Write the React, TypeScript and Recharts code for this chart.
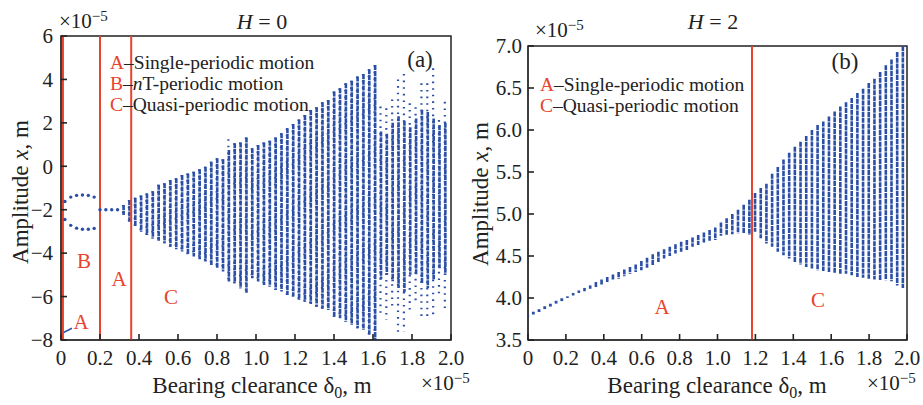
import React from 'react'
import {
  ComposedChart,
  Bar,
  Scatter,
  Line,
  XAxis,
  YAxis,
  ReferenceLine,
  ReferenceArea,
} from 'recharts'

const BLUE = '#2b4ea6'
const RED = '#e8432d'
const INK = '#222'
const SERIF = '"Liberation Serif", "DejaVu Serif", serif'

// (a) H = 0 : bifurcation columns (x in 1e-5 m, amplitude in 1e-5 m)
const aColX = [
  0.32, 0.35, 0.38, 0.41, 0.44, 0.47, 0.5, 0.53, 0.56, 0.59, 0.62, 0.65, 0.68, 0.71,
  0.74, 0.77, 0.8, 0.83, 0.86, 0.89, 0.92, 0.95, 0.98, 1.01, 1.04, 1.07, 1.1, 1.13,
  1.16, 1.19, 1.22, 1.25, 1.28, 1.31, 1.34, 1.37, 1.4, 1.43, 1.46, 1.49, 1.52, 1.55,
  1.58, 1.61, 1.64, 1.67, 1.7, 1.73, 1.76, 1.79, 1.82, 1.85, 1.88, 1.91, 1.94, 1.97,
]
const aHigh = [
  -1.78, -1.55, -1.45, -1.35, -1.25, -1.15, -0.85, -0.78, -0.63, -0.55, -0.4, -0.33, -0.25, -0.14,
  -0.02, 0.21, 0.37, 0.32, 1.25, 1.06, 1.09, 1.33, 0.83, 0.98, 1.09, 1.18, 1.33, 1.52,
  1.75, 1.95, 2.16, 2.36, 2.59, 2.72, 2.95, 3.05, 3.44, 3.59, 3.82, 3.94, 4.13, 4.25,
  4.47, 4.66, 2.75, 2.67, 3.08, 4.0, 4.25, 2.9, 2.72, 3.82, 3.82, 4.51, 2.13, 2.97,
]
const aLow = [
  -2.24, -2.55, -2.78, -3.02, -3.16, -3.32, -3.43, -3.55, -3.7, -3.82, -3.93, -4.05, -4.15, -4.28,
  -4.39, -4.55, -4.7, -4.85, -5.31, -5.39, -5.62, -5.82, -5.16, -5.31, -5.47, -5.54, -5.7, -5.77,
  -5.93, -6.0, -6.16, -6.24, -6.34, -6.47, -6.56, -6.62, -6.93, -7.0, -7.16, -7.31, -7.46, -7.54,
  -7.75, -8.0, -6.93, -7.08, -6.54, -7.69, -7.62, -6.62, -6.31, -6.93, -6.93, -6.93, -6.0, -6.62,
]
const aCoreHigh = [
  -1.78, -1.55, -1.45, -1.35, -1.25, -1.15, -0.85, -0.78, -0.63, -0.55, -0.4, -0.33, -0.25, -0.14,
  -0.02, 0.21, 0.37, 0.32, 0.75, 1.06, 1.09, 1.33, 0.83, 0.98, 1.09, 1.18, 1.33, 1.52,
  1.75, 1.95, 2.16, 2.36, 2.59, 2.72, 2.95, 3.05, 3.44, 3.59, 3.82, 3.94, 4.13, 4.25,
  4.47, 4.66, 1.6, 1.5, 2.0, 2.3, 2.1, 1.8, 2.2, 2.6, 2.5, 2.2, 1.9, 2.0,
]
const aCoreLow = [
  -2.24, -2.55, -2.78, -3.02, -3.16, -3.32, -3.43, -3.55, -3.7, -3.82, -3.93, -4.05, -4.15, -4.28,
  -4.39, -4.55, -4.7, -4.85, -5.31, -5.39, -5.62, -5.82, -5.16, -5.31, -5.47, -5.54, -5.7, -5.77,
  -5.93, -6.0, -6.16, -6.24, -6.34, -6.47, -6.56, -6.62, -6.93, -7.0, -7.16, -7.31, -7.46, -7.54,
  -7.75, -8.0, -5.2, -5.0, -5.3, -5.6, -5.8, -5.0, -5.0, -5.4, -5.6, -5.2, -4.7, -5.0,
]
// nT-periodic branches
const aBranchX = [0.02, 0.05, 0.08, 0.11, 0.14, 0.17]
const aBranchUpper = [-1.62, -1.42, -1.34, -1.32, -1.34, -1.42]
const aBranchLower = [-2.45, -2.72, -2.85, -2.9, -2.9, -2.86]
// single-periodic points between 0.2 and 0.3
const aSingleX = [0.2, 0.23, 0.26, 0.29]
const aSingleY = [-2.0, -2.0, -2.0, -2.0]
// short segment near zero clearance
const aStartX = [0, 0.056]
const aStartY = [-7.72, -7.46]
const aBoundaries = [0.01, 0.2, 0.36]

// (b) H = 2
const bColX = [
  0, 0.03, 0.06, 0.09, 0.12, 0.15, 0.18, 0.21, 0.24, 0.27, 0.3, 0.33, 0.36, 0.39, 0.42, 0.45,
  0.48, 0.51, 0.54, 0.57, 0.6, 0.63, 0.66, 0.69, 0.72, 0.75, 0.78, 0.81, 0.84, 0.87, 0.9, 0.93,
  0.96, 0.99, 1.02, 1.05, 1.08, 1.11, 1.14, 1.17, 1.2, 1.23, 1.26, 1.29, 1.32, 1.35, 1.38, 1.41,
  1.44, 1.47, 1.5, 1.53, 1.56, 1.59, 1.62, 1.65, 1.68, 1.71, 1.74, 1.77, 1.8, 1.83, 1.86, 1.89,
  1.92, 1.95, 1.98,
]
const bLow = [
  3.786, 3.82, 3.85, 3.885, 3.915, 3.95, 3.98, 4.0, 4.03, 4.06, 4.08, 4.11, 4.13, 4.16, 4.19, 4.21,
  4.23, 4.26, 4.29, 4.31, 4.33, 4.36, 4.39, 4.43, 4.47, 4.5, 4.53, 4.55, 4.57, 4.61, 4.63, 4.66,
  4.68, 4.69, 4.74, 4.75, 4.76, 4.77, 4.77, 4.75, 4.79, 4.71, 4.65, 4.61, 4.55, 4.51, 4.47, 4.43,
  4.4, 4.37, 4.35, 4.33, 4.32, 4.31, 4.3, 4.29, 4.29, 4.27, 4.25, 4.24, 4.23, 4.22, 4.21, 4.21,
  4.2, 4.15, 4.12,
]
const bHigh = [
  3.786, 3.82, 3.85, 3.885, 3.915, 3.95, 3.98, 4.02, 4.06, 4.09, 4.12, 4.15, 4.19, 4.22, 4.25, 4.28,
  4.31, 4.34, 4.37, 4.4, 4.44, 4.48, 4.52, 4.55, 4.58, 4.61, 4.64, 4.67, 4.69, 4.72, 4.75, 4.78,
  4.81, 4.84, 4.9, 4.95, 5.0, 5.05, 5.11, 5.17, 5.25, 5.31, 5.36, 5.48, 5.56, 5.65, 5.73, 5.8,
  5.86, 5.93, 6.0, 6.06, 6.1, 6.16, 6.22, 6.28, 6.33, 6.38, 6.44, 6.49, 6.56, 6.61, 6.69, 6.77,
  6.84, 6.93, 7.0,
]
const bBoundaries = [1.182]

const xTicks = [0, 0.2, 0.4, 0.6, 0.8, 1.0, 1.2, 1.4, 1.6, 1.8, 2.0]
const aYTicks = [-8, -6, -4, -2, 0, 2, 4, 6]
const bYTicks = [3.5, 4.0, 4.5, 5.0, 5.5, 6.0, 6.5, 7.0]

const aCols = aColX.map((x, i) => ({
  x,
  low: aLow[i],
  high: aHigh[i],
  coreLow: aCoreLow[i],
  coreHigh: aCoreHigh[i],
}))
const aUpper = aBranchX.map((x, i) => ({ x, y: aBranchUpper[i] }))
const aLower = aBranchX.map((x, i) => ({ x, y: aBranchLower[i] }))
const aSingle = aSingleX.map((x, i) => ({ x, y: aSingleY[i] }))
const aStart = aStartX.map((x, i) => ({ x, y: aStartY[i] }))
const bCols = bColX.map((x, i) => ({ x, low: bLow[i], high: bHigh[i] }))

const fmtX = (v: number) => (v === 0 ? '0' : v.toFixed(1))
const fmtA = (v: number) => (v < 0 ? '\u2212' + Math.abs(v) : String(v))
const fmtB = (v: number) => v.toFixed(1)

// tick labels below axis, tick marks pointing into the plot
function XTick(props: any) {
  const { x, y, payload } = props
  return (
    <g>
      <line x1={x} x2={x} y1={y - 10} y2={y - 16} stroke={INK} strokeWidth={1.6} />
      <text x={x} y={y} dy="0.72em" textAnchor="middle" fill={INK} fontSize={21} fontFamily={SERIF}>
        {fmtX(payload.value)}
      </text>
    </g>
  )
}

function YTick(props: any) {
  const { x, y, payload, fmt, gap } = props
  return (
    <g>
      <line x1={x + 10} x2={x + 16} y1={y} y2={y} stroke={INK} strokeWidth={1.6} />
      <text x={x + 10 - gap} y={y} dy="0.35em" textAnchor="end" fill={INK} fontSize={21} fontFamily={SERIF}>
        {fmt(payload.value)}
      </text>
    </g>
  )
}

function Column(props: any) {
  const { x, y, width, height, dash, thick } = props
  const cx = x + width / 2
  const top = Math.min(y, y + height)
  const h = Math.abs(height)
  if (!(h > 1.5)) {
    return <rect x={cx - 1.4} y={top + h / 2 - 1.4} width={2.8} height={2.8} fill={BLUE} />
  }
  return (
    <line
      x1={cx}
      x2={cx}
      y1={top}
      y2={top + h}
      stroke={BLUE}
      strokeWidth={thick}
      strokeDasharray={dash}
    />
  )
}

function Dot(props: any) {
  return <circle cx={props.cx} cy={props.cy} r={1.7} fill={BLUE} />
}

function PanelA() {
  return (
    <ComposedChart
      width={476}
      height={405}
      data={aCols}
      margin={{ top: 36, right: 25, bottom: 35, left: 21 }}
      barGap={-3}
    >
      <XAxis
        dataKey="x"
        type="number"
        domain={[0, 2]}
        ticks={xTicks}
        interval={0}
        height={30}
        tickSize={0}
        tickMargin={10}
        tickLine={false}
        tick={<XTick />}
        stroke={INK}
        allowDataOverflow
      />
      <YAxis
        type="number"
        domain={[-8, 6]}
        ticks={aYTicks}
        interval={0}
        width={40}
        tickSize={0}
        tickMargin={10}
        tickLine={false}
        tick={<YTick fmt={fmtA} gap={8} />}
        stroke={INK}
        allowDataOverflow
      />
      <ReferenceArea x1={0} x2={2} y1={-8} y2={6} fill="none" stroke={INK} strokeWidth={1.5} />
      <Bar
        dataKey={(d: any) => [d.low, d.high]}
        barSize={3}
        isAnimationActive={false}
        shape={(p: any) => <Column {...p} dash="1.6 5" thick={2.2} />}
      />
      <Bar
        dataKey={(d: any) => [d.coreLow, d.coreHigh]}
        barSize={3}
        isAnimationActive={false}
        shape={(p: any) => <Column {...p} dash="5 0.8" thick={2.6} />}
      />
      <Scatter data={aUpper} dataKey="y" shape={<Dot />} isAnimationActive={false} />
      <Scatter data={aLower} dataKey="y" shape={<Dot />} isAnimationActive={false} />
      <Scatter data={aSingle} dataKey="y" shape={<Dot />} isAnimationActive={false} />
      <Line
        data={aStart}
        dataKey="y"
        stroke={BLUE}
        strokeWidth={1.5}
        dot={false}
        isAnimationActive={false}
      />
      {aBoundaries.map((b) => (
        <ReferenceLine key={b} x={b} stroke={RED} strokeWidth={2} />
      ))}
    </ComposedChart>
  )
}

function PanelB() {
  return (
    <ComposedChart
      width={462}
      height={405}
      data={bCols}
      margin={{ top: 46, right: 16, bottom: 35, left: 27 }}
    >
      <XAxis
        dataKey="x"
        type="number"
        domain={[0, 2]}
        ticks={xTicks}
        interval={0}
        height={30}
        tickSize={0}
        tickMargin={10}
        tickLine={false}
        tick={<XTick />}
        stroke={INK}
        allowDataOverflow
      />
      <YAxis
        type="number"
        domain={[3.5, 7]}
        ticks={bYTicks}
        interval={0}
        width={40}
        tickSize={0}
        tickMargin={10}
        tickLine={false}
        tick={<YTick fmt={fmtB} gap={6} />}
        stroke={INK}
        allowDataOverflow
      />
      <ReferenceArea x1={0} x2={2} y1={3.5} y2={7} fill="none" stroke={INK} strokeWidth={1.5} />
      <Bar
        dataKey={(d: any) => [d.low, d.high]}
        barSize={3}
        isAnimationActive={false}
        shape={(p: any) => <Column {...p} dash="5 0.8" thick={2.6} />}
      />
      {bBoundaries.map((b) => (
        <ReferenceLine key={b} x={b} stroke={RED} strokeWidth={2} />
      ))}
    </ComposedChart>
  )
}

function Legend({ x, y, items }: { x: number; y: number; items: [string, React.ReactNode][] }) {
  return (
    <>
      {items.map(([k, t], i) => (
        <text key={k} x={x} y={y + i * 21} fontSize={19.5}>
          <tspan fill={RED}>{k}</tspan>
          <tspan fill={INK}>{'\u2013'}</tspan>
          {t}
        </text>
      ))}
    </>
  )
}

function Times10({ x, y }: { x: number; y: number }) {
  return (
    <text x={x} y={y} fontSize={21} fill={INK}>
      {'\u00d710'}
      <tspan fontSize={15} dy={-7}>
        {'\u22125'}
      </tspan>
    </text>
  )
}

function Overlay() {
  return (
    <svg
      width={923}
      height={405}
      style={{ position: 'absolute', left: 0, top: 0, pointerEvents: 'none' }}
      fontFamily={SERIF}
    >
      {/* panel a */}
      <text x={262} y={29} fontSize={22} textAnchor="middle" fill={INK}>
        <tspan fontStyle="italic">H</tspan> = 0
      </text>
      <Times10 x={59} y={28} />
      <Legend
        x={110}
        y={69}
        items={[
          ['A', <tspan key="a" fill={INK}>Single-periodic motion</tspan>],
          [
            'B',
            <tspan key="b" fill={INK}>
              <tspan fontStyle="italic">n</tspan>T-periodic motion
            </tspan>,
          ],
          ['C', <tspan key="c" fill={INK}>Quasi-periodic motion</tspan>],
        ]}
      />
      <text x={420} y={67} fontSize={23} textAnchor="middle" fill={INK}>
        (a)
      </text>
      <text x={84} y={268} fontSize={21} textAnchor="middle" fill={RED}>B</text>
      <text x={119} y={286} fontSize={21} textAnchor="middle" fill={RED}>A</text>
      <text x={171} y={304} fontSize={21} textAnchor="middle" fill={RED}>C</text>
      <text x={81} y={329} fontSize={21} textAnchor="middle" fill={RED}>A</text>
      <text x={262} y={393} fontSize={23} textAnchor="middle" fill={INK}>
        Bearing clearance δ<tspan fontSize={16} dy={5}>0</tspan>
        <tspan dy={-5}>, m</tspan>
      </text>
      <Times10 x={421} y={390} />
      <text transform="rotate(-90)" x={-192} y={28} fontSize={23} textAnchor="middle" fill={INK}>
        Amplitude <tspan fontStyle="italic">x</tspan>, m
      </text>

      {/* panel b */}
      <text x={713} y={29} fontSize={22} textAnchor="middle" fill={INK}>
        <tspan fontStyle="italic">H</tspan> = 2
      </text>
      <Times10 x={535} y={37} />
      <Legend
        x={540}
        y={91}
        items={[
          ['A', <tspan key="a" fill={INK}>Single-periodic motion</tspan>],
          ['C', <tspan key="c" fill={INK}>Quasi-periodic motion</tspan>],
        ]}
      />
      <text x={845} y={69} fontSize={23} textAnchor="middle" fill={INK}>
        (b)
      </text>
      <text x={662} y={314} fontSize={21} textAnchor="middle" fill={RED}>A</text>
      <text x={818} y={307} fontSize={21} textAnchor="middle" fill={RED}>C</text>
      <text x={717} y={393} fontSize={23} textAnchor="middle" fill={INK}>
        Bearing clearance δ<tspan fontSize={16} dy={5}>0</tspan>
        <tspan dy={-5}>, m</tspan>
      </text>
      <Times10 x={867} y={390} />
      <text transform="rotate(-90)" x={-194} y={488} fontSize={23} textAnchor="middle" fill={INK}>
        Amplitude <tspan fontStyle="italic">x</tspan>, m
      </text>
    </svg>
  )
}

export default function App() {
  return (
    <div
      style={{
        position: 'absolute',
        left: 0,
        top: 0,
        width: 923,
        height: 405,
        background: '#fff',
        fontFamily: SERIF,
      }}
    >
      <div style={{ position: 'absolute', left: 0, top: 0 }}>
        <PanelA />
      </div>
      <div style={{ position: 'absolute', left: 461, top: 0 }}>
        <PanelB />
      </div>
      <Overlay />
    </div>
  )
}
